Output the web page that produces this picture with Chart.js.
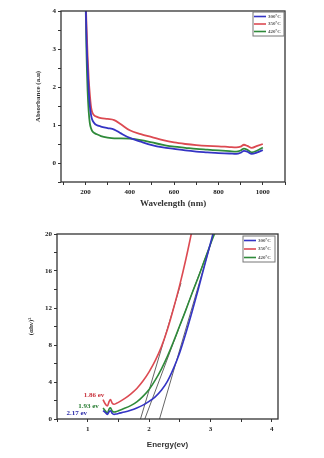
<!DOCTYPE html>
<html>
<head>
<meta charset="utf-8">
<script src="https://cdn.jsdelivr.net/npm/chart.js@4/dist/chart.umd.min.js"></script>
<style>
html, body { margin: 0; padding: 0; background: #fff; }
canvas { display: block; }
</style>
</head>
<body>
<canvas id="absorbancia" width="324" height="215"></canvas>
<canvas id="tauc" width="324" height="243"></canvas>
<script>
// Series names
const muestras = ['300ºC', '350ºC', '420ºC'];

// Absorbance spectrum (top panel)
const longitudOnda = [200, 205, 210, 215, 220, 225, 230, 240, 250, 270, 300, 330, 360, 400, 450, 500, 550, 600, 650, 700, 750, 800, 850, 880, 900, 915, 930, 950, 975, 1000];
const abs300 = [4.6, 3.3, 2.5, 1.9, 1.5, 1.28, 1.15, 1.05, 1.0, 0.96, 0.92, 0.88, 0.78, 0.66, 0.56, 0.47, 0.41, 0.37, 0.33, 0.3, 0.28, 0.26, 0.25, 0.24, 0.27, 0.32, 0.3, 0.24, 0.28, 0.34];
const abs350 = [4.6, 3.6, 2.8, 2.2, 1.8, 1.5, 1.35, 1.25, 1.22, 1.18, 1.16, 1.13, 1.02, 0.86, 0.76, 0.68, 0.6, 0.54, 0.5, 0.47, 0.45, 0.44, 0.42, 0.41, 0.43, 0.48, 0.45, 0.4, 0.45, 0.5];
const abs420 = [4.6, 2.9, 1.9, 1.35, 1.05, 0.92, 0.85, 0.79, 0.76, 0.71, 0.67, 0.65, 0.65, 0.64, 0.6, 0.54, 0.48, 0.43, 0.4, 0.37, 0.35, 0.33, 0.31, 0.3, 0.33, 0.38, 0.35, 0.28, 0.33, 0.41];

// Tauc plot (bottom panel)
const energia = [1.25, 1.28, 1.32, 1.35, 1.37, 1.40, 1.43, 1.47, 1.5, 1.6, 1.7, 1.8, 1.9, 2.0, 2.1, 2.2, 2.3, 2.4, 2.5, 2.6, 2.7, 2.8, 2.9, 3.0, 3.1];
const tauc300 = [0.9, 0.75, 0.5, 0.8, 0.9, 0.6, 0.5, 0.55, 0.6, 0.75, 0.95, 1.2, 1.5, 1.9, 2.4, 3.1, 4.1, 5.5, 7.2, 9.3, 11.6, 14.0, 16.5, 19.0, 21.5];
const tauc350 = [2.1, 1.7, 1.4, 1.9, 2.1, 1.7, 1.6, 1.7, 1.8, 2.2, 2.7, 3.3, 4.1, 5.1, 6.3, 7.8, 9.7, 12.0, 14.5, 17.3, 20.4, null, null, null, null];
const tauc420 = [1.2, 0.95, 0.65, 1.1, 1.2, 0.85, 0.75, 0.8, 0.9, 1.15, 1.45, 1.85, 2.45, 3.2, 4.2, 5.4, 6.8, 8.4, 10.1, 11.8, 13.6, 15.3, 17.1, 18.9, 20.6];

// Band gaps and tangent lines (same order as muestras)
const bandGap = [2.17, 1.86, 1.93];
const tangenteFinE = [3.05, 2.52, 3.0];
const tangenteFinV = [20, 14.7, 18.9];
const etiquetasGap = ['2.17 ev', '1.86 ev', '1.93 ev'];

// Tick values
const ticksXArriba = [100, 200, 300, 400, 500, 600, 700, 800, 900, 1000, 1100];
const etiquetasXArriba = [200, 400, 600, 800, 1000];
const ticksYArriba = [-0.5, 0, 0.5, 1, 1.5, 2, 2.5, 3, 3.5, 4];
const etiquetasYArriba = [0, 1, 2, 3, 4];
const ticksXAbajo = [0.5, 1, 1.5, 2, 2.5, 3, 3.5, 4];
const etiquetasXAbajo = [1, 2, 3, 4];
const ticksYAbajo = [0, 2, 4, 6, 8, 10, 12, 14, 16, 18, 20];
const etiquetasYAbajo = [0, 4, 8, 12, 16, 20];

const colores = ['#3434c4', '#dc4a52', '#2f8a3a'];
const coloresTexto = ['#2a2aa8', '#c8323c', '#237a2e'];

function puntos(xs, ys) {
    return xs.map((x, i) => ({ x: x, y: ys[i] }));
}

// Frame around the plot area
const marco = {
    id: 'marco',
    afterDraw(chart) {
        const a = chart.chartArea;
        const ctx = chart.ctx;
        ctx.save();
        ctx.strokeStyle = '#333';
        ctx.lineWidth = 1.3;
        ctx.strokeRect(a.left, a.top, a.right - a.left, a.bottom - a.top);
        ctx.restore();
    }
};

// Small boxed legend in the upper-right corner
const cajaLeyenda = {
    id: 'cajaLeyenda',
    afterDraw(chart, args, opts) {
        const ctx = chart.ctx;
        ctx.save();
        ctx.strokeStyle = '#777';
        ctx.lineWidth = 1;
        ctx.strokeRect(opts.x, opts.y, opts.w, opts.h);
        ctx.font = 'bold 5px "Liberation Serif"';
        ctx.textBaseline = 'middle';
        const sets = chart.data.datasets.filter(d => d.enLeyenda);
        sets.forEach((d, i) => {
            const y = opts.y + opts.filaInicio + i * opts.filaPaso;
            ctx.strokeStyle = d.borderColor;
            ctx.lineWidth = 1.6;
            ctx.beginPath();
            ctx.moveTo(opts.x + 1, y);
            ctx.lineTo(opts.x + opts.linea, y);
            ctx.stroke();
            ctx.fillStyle = '#555';
            ctx.fillText(d.label, opts.x + opts.linea + 2, y);
        });
        ctx.restore();
    }
};

// Band gap labels next to the curves' starting points
const textoGap = {
    id: 'textoGap',
    afterDatasetsDraw(chart) {
        const sx = chart.scales.x, sy = chart.scales.y;
        const ctx = chart.ctx;
        const anclas = [[0.99, 0.6], [1.27, 2.6], [1.18, 1.4]];
        ctx.save();
        ctx.font = 'bold 7px "Liberation Serif"';
        ctx.textAlign = 'right';
        ctx.textBaseline = 'middle';
        etiquetasGap.forEach((t, i) => {
            ctx.fillStyle = coloresTexto[i];
            ctx.fillText(t, sx.getPixelForValue(anclas[i][0]), sy.getPixelForValue(anclas[i][1]));
        });
        ctx.restore();
    }
};

function ejeLineal(min, max, valores, etiquetas, ancho, alto, titulo, extra) {
    const eje = {
        type: 'linear',
        min: min,
        max: max,
        afterBuildTicks: s => { s.ticks = valores.map(v => ({ value: v })); },
        ticks: {
            autoSkip: false,
            maxRotation: 0,
            color: '#222',
            padding: extra.pad,
            font: { family: 'Liberation Serif', size: 7, weight: 'bold' },
            callback: v => etiquetas.includes(v) ? String(v) : ''
        },
        grid: { drawOnChartArea: false, tickLength: 3, color: '#333', tickWidth: 1 },
        border: { display: false },
        title: {
            display: true,
            text: titulo,
            color: '#333',
            font: extra.fuente,
            padding: extra.tituloPad
        }
    };
    if (ancho) eje.afterFit = s => { s.width = ancho; };
    if (alto) eje.afterFit = s => { s.height = alto; };
    return eje;
}

// Top chart: absorbance
var ctx1 = document.getElementById('absorbancia').getContext('2d');
var graficoAbs = new Chart(ctx1, {
    type: 'line',
    data: {
        datasets: [abs300, abs350, abs420].map((serie, i) => ({
            label: muestras[i],
            data: puntos(longitudOnda, serie),
            borderColor: colores[i],
            borderWidth: 1.8,
            pointRadius: 0,
            cubicInterpolationMode: 'monotone',
            enLeyenda: true
        }))
    },
    options: {
        responsive: false,
        animation: false,
        layout: { padding: { left: 0, right: 39, top: 11, bottom: 0 } },
        plugins: {
            legend: { display: false },
            tooltip: { enabled: false },
            cajaLeyenda: { x: 253, y: 12, w: 31, h: 24, linea: 13, filaInicio: 4.5, filaPaso: 7.5 }
        },
        scales: {
            x: ejeLineal(90, 1100, ticksXArriba, etiquetasXArriba, null, 33, 'Wavelength (nm)',
                { pad: 3, fuente: { family: 'Liberation Serif', size: 9, weight: 'bold' }, tituloPad: { top: 0, bottom: 6 } }),
            y: ejeLineal(-0.5, 4, ticksYArriba, etiquetasYArriba, 61, null, 'Absorbance (a.u)',
                { pad: 2, fuente: { family: 'Liberation Serif', size: 7, weight: 'bold' }, tituloPad: { top: 34, bottom: 0 } })
        }
    },
    plugins: [marco, cajaLeyenda]
});

// Bottom chart: Tauc plot
const tangentes = bandGap.map((g, i) => ({
    label: 'tangente ' + etiquetasGap[i],
    data: [{ x: g, y: 0 }, { x: tangenteFinE[i], y: tangenteFinV[i] }],
    borderColor: '#666',
    borderWidth: 1,
    pointRadius: 0,
    enLeyenda: false
}));

var ctx2 = document.getElementById('tauc').getContext('2d');
var graficoTauc = new Chart(ctx2, {
    type: 'line',
    data: {
        datasets: [tauc300, tauc350, tauc420].map((serie, i) => ({
            label: muestras[i],
            data: puntos(energia, serie),
            borderColor: colores[i],
            borderWidth: 1.6,
            pointRadius: 0,
            cubicInterpolationMode: 'monotone',
            enLeyenda: true
        })).concat(tangentes)
    },
    options: {
        responsive: false,
        animation: false,
        layout: { padding: { left: 0, right: 46, top: 19, bottom: 0 } },
        plugins: {
            legend: { display: false },
            tooltip: { enabled: false },
            cajaLeyenda: { x: 243, y: 21, w: 32, h: 26, linea: 13, filaInicio: 4.5, filaPaso: 8.5 }
        },
        scales: {
            x: ejeLineal(0.5, 4.1, ticksXAbajo, etiquetasXAbajo, null, 39, 'Energy(ev)',
                { pad: 3, fuente: { family: 'Liberation Sans', size: 8, weight: 'bold' }, tituloPad: { top: 0, bottom: 8 } }),
            y: ejeLineal(0, 20, ticksYAbajo, etiquetasYAbajo, 57, null, '(αhν)²',
                { pad: 2, fuente: { family: 'Liberation Serif', size: 7, weight: 'bold' }, tituloPad: { top: 27, bottom: 0 } })
        }
    },
    plugins: [marco, cajaLeyenda, textoGap]
});
</script>
</body>
</html>
